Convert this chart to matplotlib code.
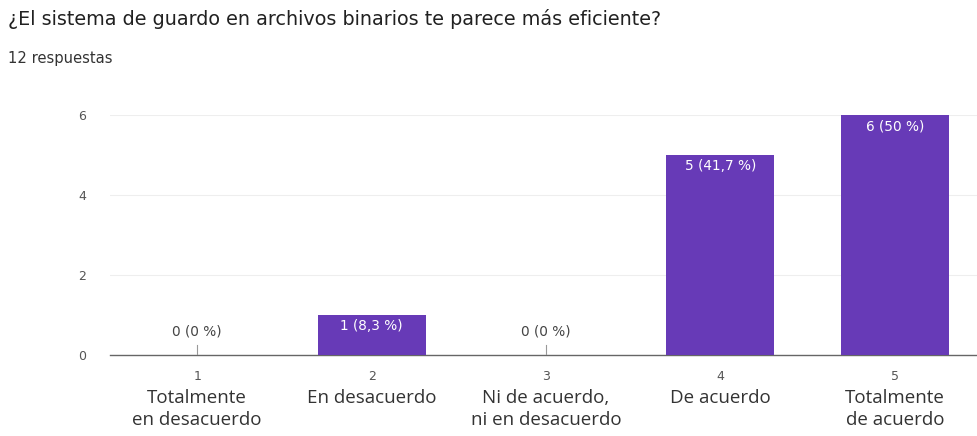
import matplotlib.pyplot as plt

# survey answers
scale = [1, 2, 3, 4, 5]
answers = ["Totalmente\nen desacuerdo", "En desacuerdo", "Ni de acuerdo,\nni en desacuerdo",
           "De acuerdo", "Totalmente\nde acuerdo"]
counts = [0, 1, 0, 5, 6]
pct_labels = ["0 %", "8,3 %", "0 %", "41,7 %", "50 %"]
yticks = [0, 2, 4, 6]

purple = "#673ab7"

fig = plt.figure(figsize=(9.78, 4.36), dpi=100)
ax = fig.add_axes([110 / 978, 81 / 436, 872 / 978, 240 / 436])

ax.bar(scale, counts, width=0.62, color=purple, zorder=3)

for x, c, p in zip(scale, counts, pct_labels):
    txt = "%d (%s)" % (c, p)
    if c > 0:
        ax.text(x, c - 0.28, txt, ha="center", va="center", color="white",
                fontsize=9.8, family="DejaVu Sans", zorder=4)
    else:
        # zero answers: small stub plus label above the axis
        ax.plot([x, x], [0, 0.25], color="#999999", lw=0.8, zorder=3)
        ax.text(x, 0.58, txt, ha="center", va="center", color="#444444",
                fontsize=9.8, family="DejaVu Sans")

ax.set_xlim(0.5, 5.5)
ax.set_ylim(0, 6)
ax.set_yticks(yticks)
ax.set_yticklabels([str(v) for v in yticks], fontsize=9, color="#555555", family="DejaVu Sans")
ax.set_xticks(scale)
ax.set_xticklabels([str(v) for v in scale], fontsize=9, color="#555555", family="DejaVu Sans")
ax.tick_params(axis="both", length=0)
ax.tick_params(axis="y", pad=17)
ax.tick_params(axis="x", pad=11)
ax.grid(axis="y", color="#eeeeee", lw=0.8, zorder=0)
for s in ["top", "right", "left"]:
    ax.spines[s].set_visible(False)
ax.spines["bottom"].set_color("#666666")
ax.spines["bottom"].set_linewidth(1.0)

for x, a in zip(scale, answers):
    ax.annotate(a, xy=(x, 0), xycoords="data", xytext=(0, -24.5), textcoords="offset points",
                ha="center", va="top", fontsize=13.5, color="#333333", family="Open Sans",
                linespacing=1.3)

fig.text(8 / 978, 1 - 19 / 436, "¿El sistema de guardo en archivos binarios te parece más eficiente?",
         ha="left", va="center", fontsize=13.8, color="#212121", family="DejaVu Sans")
fig.text(8 / 978, 1 - 58 / 436, "12 respuestas", ha="left", va="center",
         fontsize=10.6, color="#333333", family="DejaVu Sans")

fig.savefig("out.png", dpi=100, facecolor="white")
